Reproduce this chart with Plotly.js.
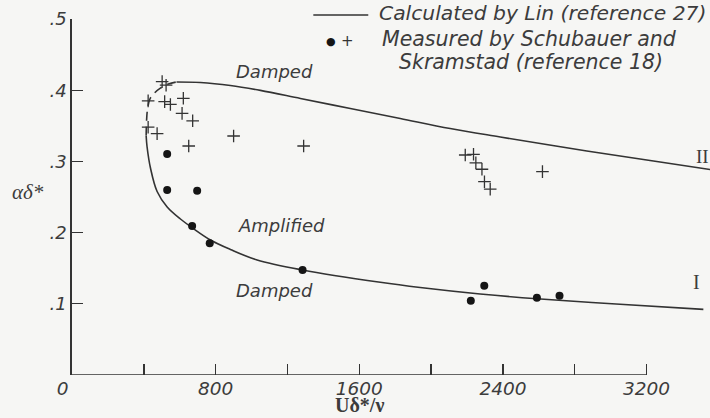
<!DOCTYPE html>
<html>
<head>
<meta charset="utf-8">
<script src="https://cdn.plot.ly/plotly-3.0.1.min.js"></script>
<style>html,body{margin:0;padding:0;background:#f6f6f4;}#chart{width:710px;height:418px;}</style>
</head>
<body>
<div id="chart"></div>
<script>
// Neutral-stability curve (Lin), branch I (lower) and branch II (upper)
const branchIRe = [413, 418, 437, 474, 530, 604, 671, 771, 882, 1031, 1284, 1717, 1939, 2273, 2589, 3052, 3516];
const branchIAlpha = [0.3357, 0.3206, 0.2907, 0.2577, 0.2360, 0.2191, 0.2065, 0.1896, 0.1763, 0.1615, 0.1475, 0.1302, 0.1229, 0.1138, 0.1070, 0.0993, 0.0922];
const branchIIRe = [582, 715, 882, 1049, 1272, 1550, 1828, 2106, 2385, 2867, 3238, 3553];
const branchIIAlpha = [0.4115, 0.4108, 0.4066, 0.3997, 0.3884, 0.3743, 0.3603, 0.3462, 0.3343, 0.3146, 0.3006, 0.2887];
// Dashed nose joining the two branches
const noseRe = [413, 415, 420, 434, 459, 492, 537, 582];
const noseAlpha = [0.336, 0.3553, 0.3722, 0.3876, 0.396, 0.403, 0.4087, 0.4115];
// Measured (Schubauer and Skramstad): crosses and dots
const crossRe = [502, 524, 424, 516, 548, 620, 613, 672, 424, 474, 650, 900, 1290, 2190, 2236, 2249, 2283, 2297, 2329, 2620];
const crossAlpha = [0.412, 0.407, 0.385, 0.384, 0.380, 0.3886, 0.3675, 0.357, 0.348, 0.339, 0.3216, 0.3357, 0.3216, 0.309, 0.310, 0.298, 0.289, 0.2715, 0.261, 0.2856];
const dotRe = [530, 530, 697, 669, 767, 1284, 2221, 2296, 2589, 2715];
const dotAlpha = [0.3104, 0.2598, 0.2589, 0.2093, 0.185, 0.1475, 0.1044, 0.1254, 0.1086, 0.1114];
// Tick labels
const xTickVals = [0, 400, 800, 1200, 1600, 2000, 2400, 2800, 3200];
const xTickText = ['0\u2003', '', '800', '', '1600', '', '2400', '', '3200'];
const yTickVals = [0.1, 0.2, 0.3, 0.4, 0.5];
const yTickText = ['.1', '.2', '.3', '.4', '.5'];

const ink = '#333333';
const txt = '#3c3c3c';
const letter = {family: 'DejaVu Sans, Verdana, sans-serif', style: 'italic', color: txt};
function px2paperX(px) { return (px - 71.5) / 638.5; }
function px2paperY(py) { return (375 - py) / 356; }

const traces = [
  {x: branchIRe, y: branchIAlpha, mode: 'lines', line: {color: ink, width: 1.6, shape: 'spline', smoothing: 1}, hoverinfo: 'skip'},
  {x: branchIIRe, y: branchIIAlpha, mode: 'lines', line: {color: ink, width: 1.6, shape: 'spline', smoothing: 1}, hoverinfo: 'skip'},
  {x: noseRe, y: noseAlpha, mode: 'lines', line: {color: ink, width: 1.6, shape: 'spline', dash: '9px,6px'}, hoverinfo: 'skip'},
  {x: crossRe, y: crossAlpha, mode: 'markers', marker: {symbol: 'cross-thin', size: 9, line: {color: ink, width: 1.3}}, cliponaxis: false},
  {x: dotRe, y: dotAlpha, mode: 'markers', marker: {symbol: 'circle', size: 8, color: '#151515'}, cliponaxis: false}
];

const layout = {
  width: 710, height: 418,
  margin: {l: 71.5, r: 0, t: 19, b: 43},
  paper_bgcolor: '#f6f6f4', plot_bgcolor: '#f6f6f4',
  showlegend: false,
  xaxis: {
    range: [0, 3553], showgrid: false, zeroline: false, showline: false,
    tickmode: 'array', tickvals: xTickVals, ticktext: xTickText,
    ticks: 'inside', ticklen: 11, tickwidth: 1.4, tickcolor: ink,
    tickfont: Object.assign({size: 18.5}, letter)
  },
  yaxis: {
    range: [0, 0.5], showgrid: false, zeroline: false,
    showline: true, linecolor: ink, linewidth: 1.6,
    tickmode: 'array', tickvals: yTickVals, ticktext: yTickText,
    ticks: 'inside', ticklen: 11, tickwidth: 1.4, tickcolor: ink,
    tickfont: Object.assign({size: 18}, letter)
  },
  shapes: [
    {type: 'line', xref: 'x', yref: 'y', x0: 0, x1: 3200, y0: 0, y1: 0, line: {color: ink, width: 1.6}},
    {type: 'line', xref: 'paper', yref: 'paper', x0: px2paperX(313), x1: px2paperX(368), y0: px2paperY(15), y1: px2paperY(15), line: {color: ink, width: 1.5}}
  ],
  annotations: [
    {xref: 'paper', yref: 'paper', x: px2paperX(377), y: px2paperY(13), xanchor: 'left', yanchor: 'middle', text: 'Calculated by Lin (reference 27)', showarrow: false, font: Object.assign({size: 20.3}, letter)},
    {xref: 'paper', yref: 'paper', x: px2paperX(331), y: px2paperY(41), xanchor: 'center', yanchor: 'middle', text: '●', showarrow: false, font: {family: 'DejaVu Sans', size: 11, color: '#151515'}},
    {xref: 'paper', yref: 'paper', x: px2paperX(347), y: px2paperY(41), xanchor: 'center', yanchor: 'middle', text: '+', showarrow: false, font: {family: 'DejaVu Sans', size: 15, color: ink}},
    {xref: 'paper', yref: 'paper', x: px2paperX(529.5), y: px2paperY(39), xanchor: 'center', yanchor: 'middle', text: 'Measured by Schubauer and', showarrow: false, font: Object.assign({size: 20.5}, letter)},
    {xref: 'paper', yref: 'paper', x: px2paperX(531), y: px2paperY(62), xanchor: 'center', yanchor: 'middle', text: 'Skramstad (reference 18)', showarrow: false, font: Object.assign({size: 20.5}, letter)},
    {xref: 'x', yref: 'y', x: 1127, y: 0.4256, xanchor: 'center', text: 'Damped', showarrow: false, font: Object.assign({size: 18}, letter)},
    {xref: 'x', yref: 'y', x: 1166, y: 0.2093, xanchor: 'center', text: 'Amplified', showarrow: false, font: Object.assign({size: 18}, letter)},
    {xref: 'x', yref: 'y', x: 1127, y: 0.118, xanchor: 'center', text: 'Damped', showarrow: false, font: Object.assign({size: 18}, letter)},
    {xref: 'paper', yref: 'paper', x: px2paperX(702), y: px2paperY(157), xanchor: 'center', text: 'II', showarrow: false, font: {family: 'Liberation Serif, serif', size: 19, color: txt}},
    {xref: 'paper', yref: 'paper', x: px2paperX(696), y: px2paperY(295), xanchor: 'center', text: 'I', showarrow: false, font: {family: 'Liberation Serif, serif', size: 20, color: txt}},
    {xref: 'paper', yref: 'paper', x: px2paperX(27), y: px2paperY(192), xanchor: 'center', text: 'αδ*', showarrow: false, font: {family: 'Liberation Serif, serif', size: 21, style: 'italic', color: txt}},
    {xref: 'x', yref: 'paper', x: 1600, y: px2paperY(418), xanchor: 'center', yanchor: 'bottom', text: '<b>Uδ*/ν</b>', showarrow: false, font: {family: 'Liberation Serif, serif', size: 20, color: txt}}
  ]
};

Plotly.newPlot('chart', traces, layout, {staticPlot: true, displayModeBar: false});
</script>
</body>
</html>
